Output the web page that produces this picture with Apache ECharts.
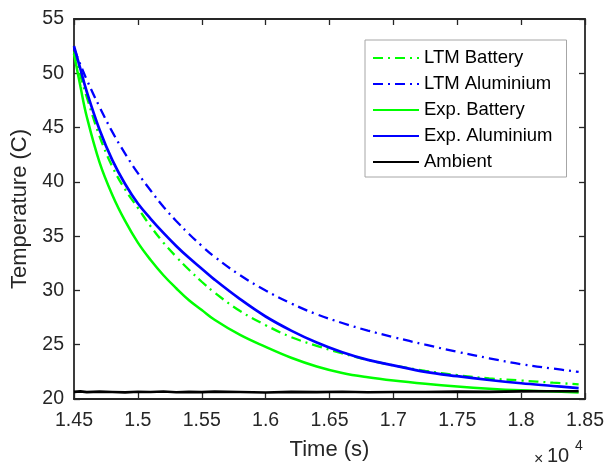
<!DOCTYPE html>
<html>
<head>
<meta charset="utf-8">
<script src="https://cdn.jsdelivr.net/npm/echarts@6/dist/echarts.min.js"></script>
<style>
  html, body { margin: 0; padding: 0; background: #fff; }
  #chart { width: 607px; height: 466px; }
</style>
</head>
<body>
<div id="chart"></div>
<script>
// time stamps in seconds
const times = [14500, 14550, 14600, 14700, 14800, 14900, 15000, 15100, 15200, 15300, 15400, 15500, 15600,
  15800, 16000, 16200, 16400, 16600, 16800, 17000, 17250, 17500, 17750, 18000, 18250, 18450];

const ltmBattery = [52.0, 49.8, 47.8, 44.2, 41.4, 39.3, 37.6, 35.9, 34.4, 33.1, 31.9, 30.8, 29.8,
  28.1, 26.8, 25.7, 24.9, 24.2, 23.6, 23.1, 22.6, 22.2, 21.9, 21.7, 21.5, 21.35];
const ltmAluminium = [52.3, 50.8, 49.4, 46.9, 44.6, 42.6, 40.8, 39.2, 37.7, 36.4, 35.2, 34.1, 33.1,
  31.4, 30.0, 28.8, 27.8, 27.0, 26.3, 25.7, 25.0, 24.35, 23.75, 23.2, 22.8, 22.5];
const expBattery = [51.8, 48.8, 46.0, 41.8, 38.8, 36.4, 34.4, 32.8, 31.4, 30.2, 29.1, 28.2, 27.3,
  25.9, 24.8, 23.8, 23.0, 22.4, 22.0, 21.7, 21.4, 21.15, 20.95, 20.8, 20.7, 20.6];
const expAluminium = [52.5, 50.4, 48.3, 44.8, 42.0, 39.8, 38.0, 36.6, 35.3, 34.1, 33.0, 32.0, 31.0,
  29.2, 27.6, 26.3, 25.2, 24.3, 23.6, 23.1, 22.5, 22.1, 21.75, 21.45, 21.2, 21.0];
const ambient = [20.66, 20.70, 20.63, 20.68, 20.65, 20.61, 20.67, 20.64, 20.69, 20.62, 20.66, 20.63, 20.68,
  20.64, 20.60, 20.66, 20.63, 20.67, 20.62, 20.65, 20.64, 20.68, 20.66, 20.70, 20.72, 20.71];

const xTicks = { min: 14500, max: 18500, interval: 500 };
const yTicks = { min: 20, max: 55, interval: 5 };

const FONT = '"Liberation Sans", Arial, sans-serif';
const INK = '#262626';
const dashDot = [10, 5, 2, 5];

const pairs = (ys) => times.map((t, i) => [t, ys[i]]);

function line(name, ys, color, dashed, width) {
  return {
    name: name,
    type: 'line',
    data: pairs(ys),
    smooth: name === 'Ambient' ? false : 0.4,
    symbol: 'none',
    lineStyle: { color: color, width: width, type: dashed ? dashDot : 'solid' },
    itemStyle: { color: color },
    z: 3
  };
}

const axisCommon = {
  type: 'value',
  axisLine: { show: true, onZero: false, lineStyle: { color: INK, width: 1.8 } },
  axisTick: { show: true, inside: true, length: 6, lineStyle: { color: INK, width: 1.3 } },
  splitLine: { show: false }
};

const chart = echarts.init(document.getElementById('chart'));
chart.setOption({
  animation: false,
  backgroundColor: '#fff',
  textStyle: { fontFamily: FONT },
  grid: { left: 74, right: 21, top: 19, bottom: 65, show: false },
  legend: {
    orient: 'vertical',
    left: 365,
    top: 40,
    padding: [8, 14, 5, 7],
    itemWidth: 46,
    itemHeight: 20,
    itemGap: 6,
    backgroundColor: '#fff',
    borderColor: '#a6a6a6',
    borderWidth: 1,
    // hide the marker symbol, keep only the line sample
    itemStyle: { color: 'rgba(0,0,0,0)', borderWidth: 0, opacity: 0 },
    textStyle: { fontSize: 18.5, color: '#000', fontFamily: FONT, lineHeight: 20 },
    data: ['LTM Battery', 'LTM Aluminium', 'Exp. Battery', 'Exp. Aluminium', 'Ambient']
  },
  xAxis: [
    Object.assign({}, axisCommon, xTicks, {
      position: 'bottom',
      name: 'Time (s)',
      nameLocation: 'middle',
      nameGap: 40,
      nameTextStyle: { fontSize: 22, color: INK, fontFamily: FONT },
      axisLabel: {
        fontSize: 19.5, color: INK, margin: 12, fontFamily: FONT,
        formatter: (v) => String(parseFloat((v / 10000).toFixed(2)))
      }
    }),
    Object.assign({}, axisCommon, xTicks, { position: 'top', axisLabel: { show: false } })
  ],
  yAxis: [
    Object.assign({}, axisCommon, yTicks, {
      position: 'left',
      name: 'Temperature (C)',
      nameLocation: 'middle',
      nameGap: 42,
      nameTextStyle: { fontSize: 22, color: INK, fontFamily: FONT },
      axisLabel: { fontSize: 19.5, color: INK, margin: 10, fontFamily: FONT }
    }),
    Object.assign({}, axisCommon, yTicks, { position: 'right', axisLabel: { show: false } })
  ],
  graphic: [
    { type: 'text', left: 534, top: 452, style: { text: '×', fontSize: 16, fill: INK, fontFamily: FONT } },
    { type: 'text', left: 547, top: 446, style: { text: '10', fontSize: 20, fill: INK, fontFamily: FONT } },
    { type: 'text', left: 575, top: 439, style: { text: '4', fontSize: 14, fill: INK, fontFamily: FONT } }
  ],
  series: [
    line('LTM Battery', ltmBattery, '#00ff00', true, 2.3),
    line('LTM Aluminium', ltmAluminium, '#0000ff', true, 2.3),
    line('Exp. Battery', expBattery, '#00ff00', false, 2.5),
    line('Exp. Aluminium', expAluminium, '#0000ff', false, 2.7),
    line('Ambient', ambient, '#000000', false, 2.6)
  ]
});
</script>
</body>
</html>
